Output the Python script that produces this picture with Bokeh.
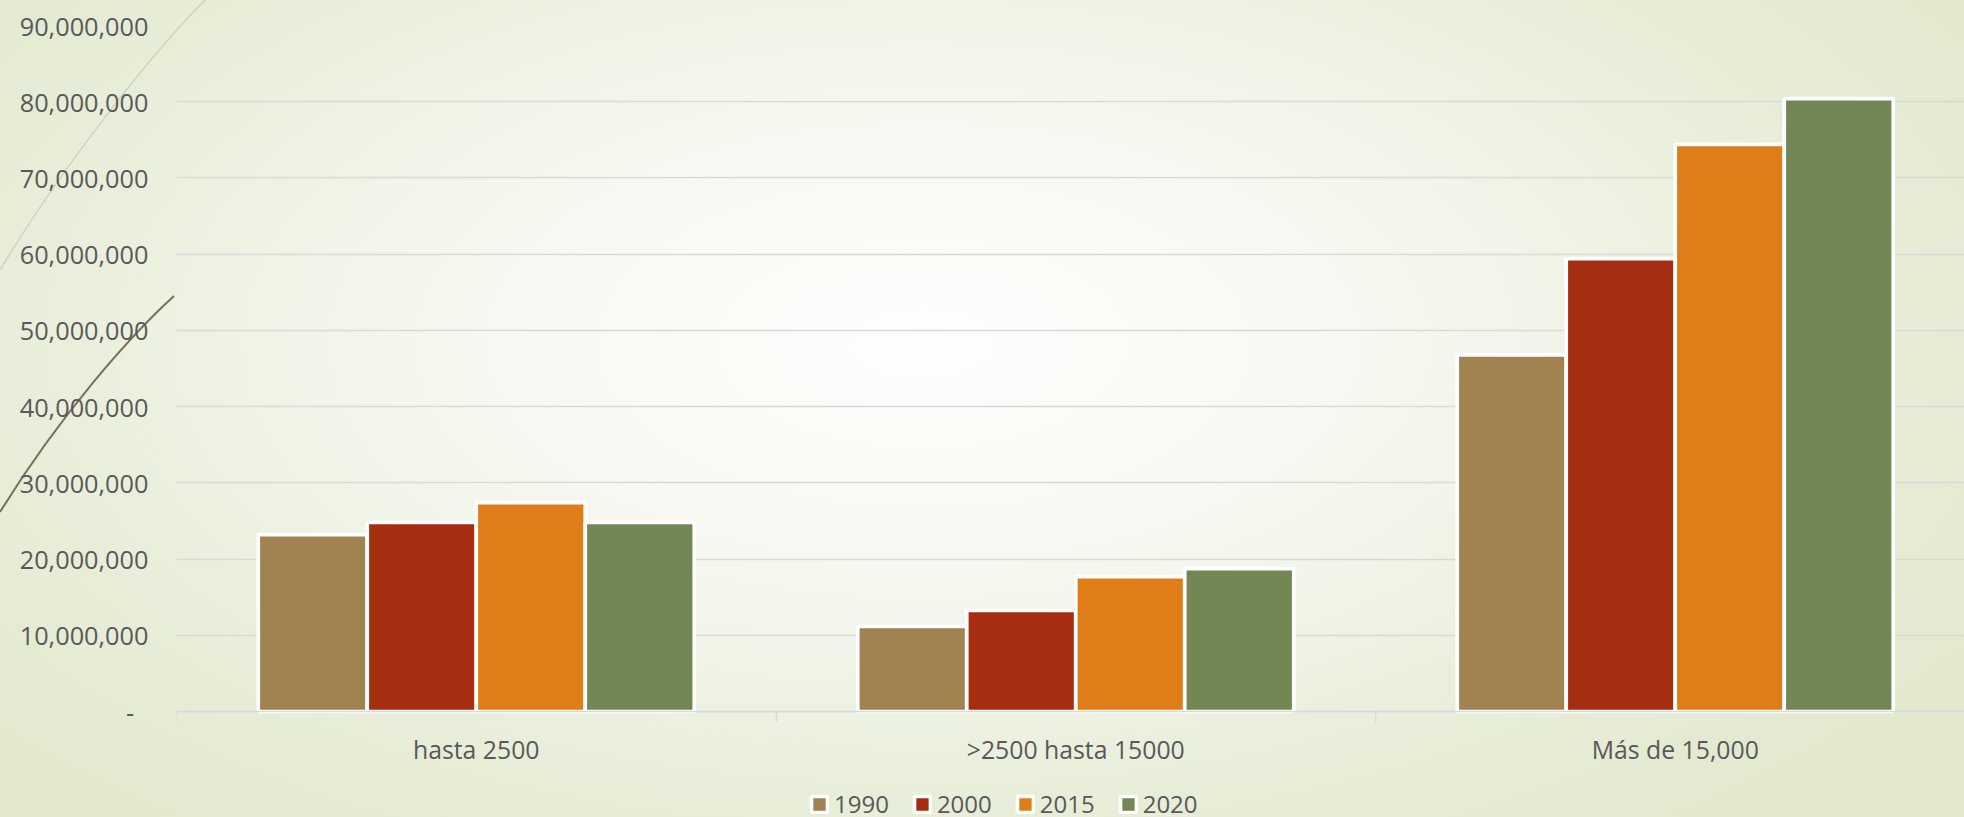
import numpy as np
from urllib.parse import quote
from bokeh.plotting import figure
from bokeh.models import (Range1d, FixedTicker, NumeralTickFormatter,
                          Legend, LegendItem, GlobalInlineStyleSheet)
from bokeh.embed import file_html
from bokeh.resources import INLINE

# ---------------- data ----------------
categories = ["hasta 2500", ">2500 hasta 15000", "Más de 15,000"]
years = ["1990", "2000", "2015", "2020"]
pop_1990 = [23_200_000, 11_150_000, 46_800_000]
pop_2000 = [24_800_000, 13_250_000, 59_400_000]
pop_2015 = [27_400_000, 17_700_000, 74_400_000]
pop_2020 = [24_800_000, 18_750_000, 80_400_000]
y_tick_values = [0, 10_000_000, 20_000_000, 30_000_000, 40_000_000,
                 50_000_000, 60_000_000, 70_000_000, 80_000_000, 90_000_000]

series = [pop_1990, pop_2000, pop_2015, pop_2020]
colors = ["#A08350", "#A52D10", "#DF7D18", "#738754"]

FONT = "Open Sans"
TXT = "#595959"
GRID = "#d9d9d9"

# ---------------- layout (pixels) ----------------
W, H = 1964, 817
TOP, ZERO_Y, LEFT = 25, 711, 176          # frame top, pixel row of y=0, frame left
y_max = y_tick_values[-1]
y_min = -y_max * (H - ZERO_Y) / (ZERO_Y - TOP)   # frame runs to the canvas bottom
x_end = (W - LEFT) / 599.5                         # one category = 599.5 px

p = figure(width=W, height=H, output_backend="svg", toolbar_location=None,
           x_range=Range1d(0, x_end), y_range=Range1d(y_min, y_max),
           min_border_left=LEFT, min_border_right=0, min_border_top=TOP, min_border_bottom=0)
p.background_fill_alpha = 0
p.border_fill_alpha = 0
p.outline_line_color = None

n = len(series)
bar_w = 1.0 / (n + 1.5)
centers = np.arange(len(categories)) + 0.5
items = []
for i, (vals, col, yr) in enumerate(zip(series, colors, years)):
    xs = centers + (i - (n - 1) / 2) * bar_w
    r = p.vbar(x=xs, top=vals, bottom=0, width=bar_w, fill_color=col,
               line_color="white", line_width=3.7)
    items.append(LegendItem(label=yr, renderers=[r]))

# y axis
p.yaxis.ticker = FixedTicker(ticks=y_tick_values, minor_ticks=[])
p.yaxis.formatter = NumeralTickFormatter(format="0,0")
p.yaxis.major_label_overrides = {0: "-\u2007"}
p.yaxis.axis_line_color = None
p.yaxis.major_tick_line_color = None
p.yaxis.minor_tick_line_color = None
p.yaxis.major_tick_out = 0
p.yaxis.major_tick_in = 0
p.yaxis.major_label_standoff = 28
p.yaxis.major_label_text_font = FONT
p.yaxis.major_label_text_font_size = "25.3px"
p.yaxis.major_label_text_color = TXT

# x axis (pinned at y = 0 inside the frame)
p.xaxis.fixed_location = 0
p.xaxis.ticker = FixedTicker(ticks=list(centers), minor_ticks=list(range(len(categories) + 1)))
p.xaxis.major_label_overrides = {float(c): lab for c, lab in zip(centers, categories)}
p.xaxis.axis_line_color = GRID
p.xaxis.axis_line_width = 1.5
p.xaxis.major_tick_line_color = None
p.xaxis.major_tick_out = 0
p.xaxis.major_tick_in = 0
p.xaxis.minor_tick_line_color = GRID
p.xaxis.minor_tick_line_width = 1.5
p.xaxis.minor_tick_out = 10
p.xaxis.minor_tick_in = 0
p.xaxis.major_label_standoff = 10
p.xaxis.major_label_text_font = FONT
p.xaxis.major_label_text_font_size = "24.8px"
p.xaxis.major_label_text_color = TXT

p.xgrid.visible = False
p.ygrid.grid_line_color = GRID
p.ygrid.grid_line_width = 1.5

legend = Legend(items=items, orientation="horizontal", location=(633, -3),
                glyph_width=20, glyph_height=20, label_standoff=5, spacing=23,
                padding=0, margin=0, border_line_color=None, background_fill_alpha=0,
                label_text_font=FONT, label_text_font_size="24px", label_text_color=TXT)
p.add_layout(legend, "center")

# slide background (gradient + decorative lines)
deco = ('<svg xmlns="http://www.w3.org/2000/svg" width="1964" height="817">'
        '<path d="M205,0 C150,55 60,170 0,270" fill="none" stroke="#cfd4c0" stroke-width="1.5"/>'
        '<path d="M174,296 C130,336 60,415 0,512" fill="none" stroke="#7a6e55" stroke-width="2"/>'
        '</svg>')
css = ("html { min-height: 100%; background: "
       f"url(\"data:image/svg+xml,{quote(deco)}\") no-repeat 0 0, "
       "radial-gradient(ellipse 62% 75% at 47% 42%, #fefefd 0%, #f5f7ef 40%, #e7edd7 78%, #e2e9cf 100%); } "
       "body { background: transparent; }")
p.stylesheets = [GlobalInlineStyleSheet(css=css)]

open("out.html", "w").write(file_html(p, INLINE))
